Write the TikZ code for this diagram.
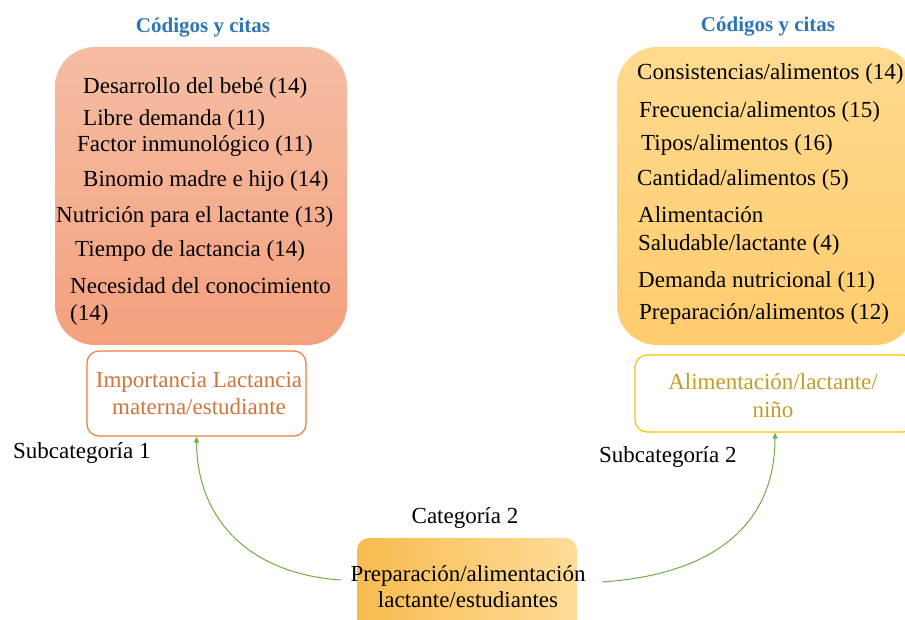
\documentclass[tikz,border=0pt]{standalone}
\usepackage{fontspec}
\setmainfont{Liberation Serif}
\usetikzlibrary{arrows.meta}
\definecolor{titleblue}{HTML}{2E75B6}
\definecolor{salmonTop}{HTML}{F5BDA3}
\definecolor{salmonBot}{HTML}{F4A17E}
\definecolor{goldTop}{HTML}{FFDA8E}
\definecolor{goldBot}{HTML}{FFCC6E}
\definecolor{orangeLine}{HTML}{ED7D31}
\definecolor{orangeText}{HTML}{D0743C}
\definecolor{goldLine}{HTML}{FFC000}
\definecolor{goldText}{HTML}{C79B22}
\definecolor{catLeft}{HTML}{F8BB50}
\definecolor{catRight}{HTML}{FFDC98}
\definecolor{arrowGreen}{HTML}{70AD47}
\tikzset{
  txt/.style={font=\fontsize{23}{27}\selectfont, inner sep=0pt, anchor=base west},
  ctxt/.style={font=\fontsize{23}{27}\selectfont, inner sep=0pt, anchor=base},
  titletxt/.style={font=\fontsize{21}{25}\selectfont\bfseries, text=titleblue, inner sep=0pt},
  bigbox/.style={rounded corners=40pt, draw=none, inner sep=0pt},
  subbox/.style={rounded corners=12pt, fill=white, line width=1.2pt, inner sep=0pt},
  conn/.style={draw=arrowGreen, line width=1pt, -{Triangle[length=6pt,width=5pt]}},
}
\begin{document}
\begin{tikzpicture}[x=1pt,y=-1pt]
\clip (0,0) rectangle (905,619);
\fill[white] (0,0) rectangle (905,619);

% titles
\node[titletxt] (titleL) at (203,28) {Códigos y citas};
\node[titletxt] (titleR) at (768,27) {Códigos y citas};

% big boxes
\node[bigbox, top color=salmonTop, bottom color=salmonBot, minimum width=292pt, minimum height=298pt] (codesL) at (201,196) {};
\node[bigbox, top color=goldTop, bottom color=goldBot, minimum width=298pt, minimum height=298pt] (codesR) at (766,196) {};

% left codes
\node[txt] (l1) at (83,93) {Desarrollo del bebé (14)};
\node[txt] (l2) at (83,125) {Libre demanda (11)};
\node[txt] (l3) at (77,151) {Factor inmunológico (11)};
\node[txt] (l4) at (83,186) {Binomio madre e hijo (14)};
\node[txt] (l5) at (56,222) {Nutrición para el lactante (13)};
\node[txt] (l6) at (75,256) {Tiempo de lactancia (14)};
\node[txt] (l7) at (70,293) {Necesidad del conocimiento};
\node[txt] (l8) at (70,320) {(14)};

% right codes
\node[txt] (r1) at (637,79) {Consistencias/alimentos (14)};
\node[txt] (r2) at (639,117) {Frecuencia/alimentos (15)};
\node[txt] (r3) at (641,150) {Tipos/alimentos (16)};
\node[txt] (r4) at (637,185) {Cantidad/alimentos (5)};
\node[txt] (r5) at (638,222) {Alimentación};
\node[txt] (r6) at (638,250) {Saludable/lactante (4)};
\node[txt] (r7) at (638,287) {Demanda nutricional (11)};
\node[txt] (r8) at (639,319) {Preparación/alimentos (12)};

% subcategory boxes
\node[subbox, draw=orangeLine, minimum width=219pt, minimum height=85pt] (subL) at (196.5,393.5) {};
\node[ctxt, text=orangeText] (subLt1) at (199,387) {Importancia Lactancia};
\node[ctxt, text=orangeText] (subLt2) at (199,414) {materna/estudiante};

\node[subbox, draw=goldLine, minimum width=280pt, minimum height=77pt] (subR) at (775,393.5) {};
\node[ctxt, text=goldText] (subRt1) at (773,389) {Alimentación/lactante/};
\node[ctxt, text=goldText] (subRt2) at (773,417) {niño};

% labels
\node[txt] (lab1) at (13,458) {Subcategoría 1};
\node[txt] (lab2) at (599,462) {Subcategoría 2};
\node[ctxt] (lab3) at (465,523) {Categoría 2};

% category box
\node[rounded corners=12pt, left color=catLeft, right color=catRight, minimum width=220pt, minimum height=100pt, inner sep=0pt] (cat) at (467,588) {};
\node[ctxt] (catt1) at (468,581) {Preparación/alimentación};
\node[ctxt] (catt2) at (468,607) {lactante/estudiantes};

% connectors
\coordinate (sL) at (341,580);
\coordinate (sR) at (602,582);
\draw[conn] (sL) .. controls (250,574) and (197,520) .. (subL.south);
\draw[conn] (sR) .. controls (720,574) and (775,520) .. (subR.south);
\end{tikzpicture}
\end{document}
